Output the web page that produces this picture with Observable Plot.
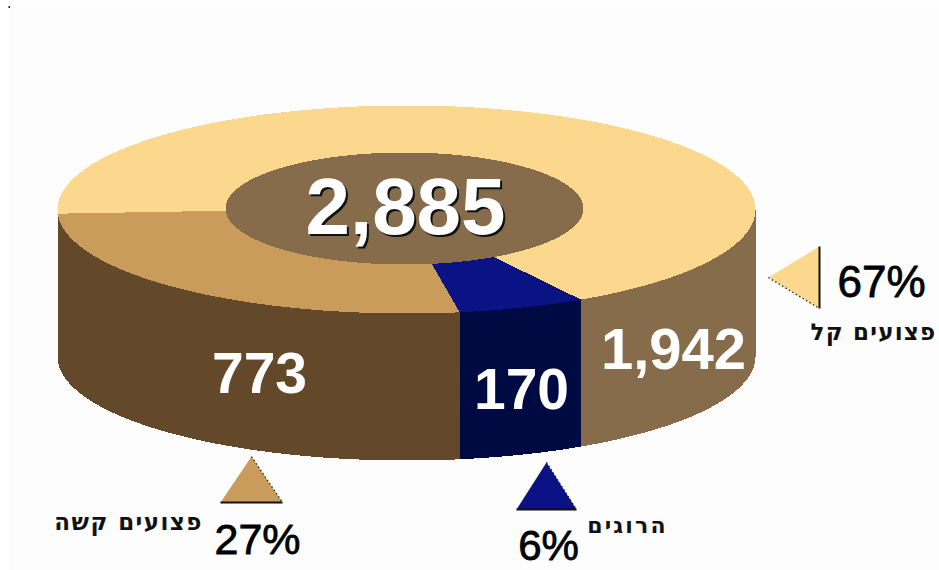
<!DOCTYPE html>
<html><head><meta charset="utf-8">
<style>html,body{margin:0;padding:0;background:#fff}svg{display:block}
.he0 text{letter-spacing:1.2px}.he1 text{letter-spacing:2.2px}.he2 text{letter-spacing:1.4px}</style>
<script src="https://cdn.jsdelivr.net/npm/d3@7"></script>
<script src="https://cdn.jsdelivr.net/npm/@observablehq/plot@0.6"></script>
</head><body><div id="chart"></div>
<script>
// Data
const categories = ["פצועים קל", "הרוגים", "פצועים קשה"];
const counts = [1942, 170, 773];
const shares = ["67%", "6%", "27%"];
const total = "2,885";

// Styles
const topColors = ["#fcd88f", "#0b1283", "#c99c5c"];
const wallColors = ["#866c4a", "#000a42", "#63492a"];
const holeColor = "#866c4a";

// Ring geometry
const ring = {cx: 406, cy: 209, rx: 349, ry: 104, depth: 147, hcx: 404, hcy: 208, hrx: 179, hry: 56, start: 177.7};
const rad = d => d * Math.PI / 180;
const outer = (t, dy = 0) => ({x: ring.cx + ring.rx * Math.cos(rad(t)), y: ring.cy + ring.ry * Math.sin(rad(t)) + dy});
const inner = t => ({x: ring.hcx + ring.hrx * Math.cos(rad(t)), y: ring.hcy + ring.hry * Math.sin(rad(t))});
const sweep = (a, b) => {
  const n = Math.max(1, Math.ceil(Math.abs(b - a)));
  return d3.range(n + 1).map(i => a + (b - a) * i / n);
};

const sum = d3.sum(counts);
let cursor = ring.start;
const slices = counts.map((v, i) => {
  const a = cursor, b = cursor + v / sum * 360;
  cursor = b;
  return {i, a, b};
});

const marks = [];
const crisp = {shapeRendering: "crispEdges", strokeWidth: 0, curve: "linear"};

// Page panel
marks.push(Plot.rect([0], {x1: () => 9, x2: () => 939, y1: () => 7, y2: () => 570, fill: "#fdfdfd"}));
marks.push(Plot.rect([0], {x1: () => 8.5, x2: () => 10, y1: () => 6, y2: () => 8, fill: "#222"}));

// Outer wall: only the front half of the ring shows
slices.forEach(({i, a, b}) => {
  [[a, b], [a - 360, b - 360]].forEach(([s, e]) => {
    const lo = Math.max(s, 0), hi = Math.min(e, 180);
    if (hi <= lo) return;
    const ts = sweep(lo, hi);
    const poly = [...ts.map(t => outer(t)), ...ts.slice().reverse().map(t => outer(t, ring.depth))];
    marks.push(Plot.line([...poly, poly[0]], {x: "x", y: "y", fill: wallColors[i], stroke: "none", ...crisp}));
  });
});
// Top face
slices.forEach(({i, a, b}) => {
  const ts = sweep(a, b);
  const poly = [...ts.map(t => outer(t)), ...ts.slice().reverse().map(t => inner(t))];
  marks.push(Plot.line([...poly, poly[0]], {x: "x", y: "y", fill: topColors[i], stroke: "none", ...crisp}));
});
// Hole
const hole = sweep(0, 360).map(t => inner(t));
marks.push(Plot.line(hole, {x: "x", y: "y", fill: holeColor, stroke: "none", ...crisp}));

// Value labels
const white = {fontFamily: "Liberation Sans", fontWeight: 700, fill: "#fff"};
const valuePos = [{x: 673, y: 350}, {x: 521, y: 390}, {x: 259, y: 374}];
const labelRows = counts.map((v, i) => ({...valuePos[i], text: d3.format(",")(v), size: [58, 57, 57][i]}));
labelRows.forEach(r => {
  marks.push(Plot.text([r], {x: "x", y: "y", text: "text", fontSize: r.size, ...white}));
});
marks.push(Plot.text([{x: 405, y: 208, text: total}], {x: "x", y: "y", text: "text", fontSize: 80, ...white, imageFilter: "drop-shadow(2px 2px 0.5px #111)"}));

// Marker triangles (custom isosceles symbols)
const tri = k => ({draw(c, size) { const r = Math.sqrt(size / Math.PI);
  c.moveTo(0, -k * r); c.lineTo(r, 0); c.lineTo(-r, 0); c.closePath(); }});
const base = {draw(c, size) { const r = Math.sqrt(size / Math.PI); c.moveTo(-r, 0); c.lineTo(r, 0); }};
const edge = (k, s) => ({draw(c, size) { const r = Math.sqrt(size / Math.PI); c.moveTo(0, -k * r); c.lineTo(s * r, 0); }});
const markers = [
  {x: 819, y: 277, r: 31, k: 1.65, rotate: -90, side: -1},
  {x: 546, y: 509, r: 30, k: 1.57, rotate: 0, side: 1},
  {x: 251, y: 502, r: 31, k: 1.48, rotate: 0, side: 1}
];
markers.forEach((m, i) => {
  const d = [m];
  marks.push(Plot.dot(d, {x: "x", y: "y", r: m.r, symbol: tri(m.k), rotate: m.rotate, fill: topColors[i], stroke: "none"}));
  marks.push(Plot.dot(d, {x: "x", y: "y", r: m.r, symbol: base, rotate: m.rotate, fill: "none", stroke: "#111", strokeWidth: 2}));
  marks.push(Plot.dot(d, {x: "x", y: "y", r: m.r, symbol: edge(m.k, m.side), rotate: m.rotate, fill: "none", stroke: "#222", strokeWidth: 1.3, strokeDasharray: "1.5,2.5"}));
});

// Share percentages
const sharePos = [{x: 881, y: 282}, {x: 548, y: 546}, {x: 257, y: 540}];
shares.forEach((s, i) => {
  marks.push(Plot.text([{...sharePos[i], text: s}], {x: "x", y: "y", text: "text", fontFamily: "Liberation Sans", fontSize: [44, 42, 43][i], fill: "#000", stroke: "#000", strokeWidth: 0.8}));
});

// Category names
const namePos = [{x: 873, y: 332}, {x: 627, y: 525}, {x: 128, y: 522}];
categories.forEach((c, i) => {
  marks.push(Plot.text([{...namePos[i], text: c}], {x: "x", y: "y", text: "text", className: "he" + i, fontFamily: "DejaVu Sans", fontWeight: 700, fontSize: [23, 22, 23][i], fill: "#111"}));
});

const plot = Plot.plot({
  width: 939, height: 570, margin: 0,
  x: {domain: [0, 939], range: [0, 939], axis: null},
  y: {domain: [0, 570], range: [0, 570], axis: null},
  style: {background: "#fff"},
  marks
});
document.getElementById("chart").append(plot);
</script></body></html>
